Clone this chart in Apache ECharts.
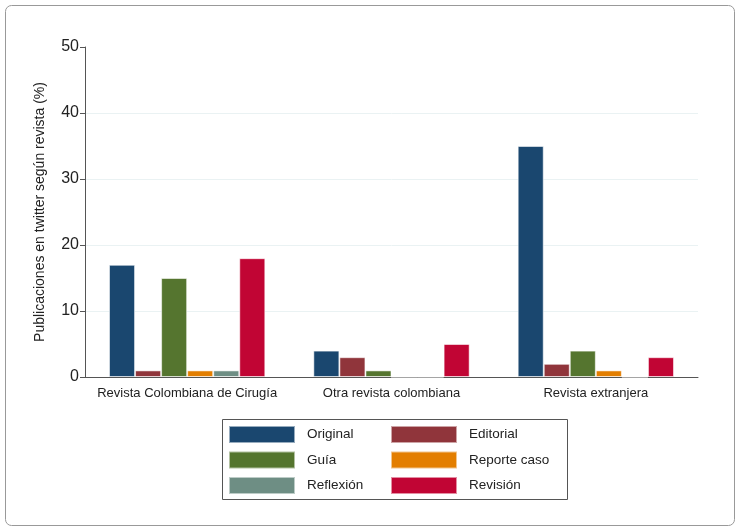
<!DOCTYPE html>
<html>
<head>
<meta charset="utf-8">
<script src="https://cdn.jsdelivr.net/npm/echarts@6/dist/echarts.min.js"></script>
<style>
html,body{margin:0;padding:0;background:#fff;}
#main{width:736px;height:527px;}
</style>
</head>
<body>
<div id="main"></div>
<script>
const categories = ['Revista Colombiana de Cirugía', 'Otra revista colombiana', 'Revista extranjera'];
const seriesNames = ['Original', 'Editorial', 'Guía', 'Reporte caso', 'Reflexión', 'Revisión'];
const original = [17, 4, 35];
const editorial = [1, 3, 2];
const guia = [15, 1, 4];
const reporteCaso = [1, 0, 1];
const reflexion = [1, 0, 0];
const revision = [18, 5, 3];
const yTicks = [0, 10, 20, 30, 40, 50];

const colors = ['#1a476f', '#90353b', '#55752f', '#e37e00', '#6e8e84', '#c10534'];
const values = [original, editorial, guia, reporteCaso, reflexion, revision];

const chart = echarts.init(document.getElementById('main'), null, {renderer: 'canvas'});
const series = seriesNames.map((n, i) => ({
  name: n,
  type: 'bar',
  data: values[i],
  barGap: '0%',
  barCategoryGap: '23.5%',
  itemStyle: {color: colors[i], borderColor: 'rgba(255,255,255,0.55)', borderWidth: 1},
  emphasis: {disabled: true}
}));

const legendCommon = {
  orient: 'vertical',
  padding: 0,
  itemWidth: 66,
  itemHeight: 17,
  itemGap: 6.5,
  icon: 'rect',
  selectedMode: false,
  textStyle: {fontSize: 13.5, color: '#222', fontFamily: 'Liberation Sans, Arial, sans-serif', padding: [0, 0, 0, 7]}
};

chart.setOption({
  animation: false,
  color: colors,
  grid: {left: 85, right: 38, top: 47, bottom: 150},
  xAxis: {
    type: 'category',
    data: categories,
    axisLine: {lineStyle: {color: '#555', width: 1}},
    axisTick: {show: false},
    axisLabel: {interval: 0, fontSize: 13, color: '#222', margin: 10, fontFamily: 'Liberation Sans, Arial, sans-serif'}
  },
  yAxis: {
    type: 'value',
    min: 0,
    max: 50,
    interval: 10,
    name: 'Publicaciones en twitter según revista (%)',
    nameLocation: 'middle',
    nameGap: 38,
    nameTextStyle: {fontSize: 14, color: '#222', fontFamily: 'Liberation Sans, Arial, sans-serif'},
    axisLine: {show: true, lineStyle: {color: '#555', width: 1}},
    axisTick: {show: true, length: 5, lineStyle: {color: '#555'}},
    axisLabel: {fontSize: 16, color: '#222', margin: 6, fontFamily: 'Liberation Sans, Arial, sans-serif',
      formatter: v => yTicks.includes(v) ? String(v) : ''},
    splitLine: {show: true, lineStyle: {color: ['transparent', '#eaf2f3', '#eaf2f3', '#eaf2f3', '#eaf2f3', 'transparent'], width: 1}}
  },
  legend: [
    Object.assign({}, legendCommon, {left: 228, top: 425, data: ['Original', 'Guía', 'Reflexión']}),
    Object.assign({}, legendCommon, {left: 390, top: 425, data: ['Editorial', 'Reporte caso', 'Revisión']})
  ],
  graphic: [
    {type: 'rect', left: 3, top: 3, shape: {width: 729, height: 520, r: 6}, style: {fill: 'none', stroke: '#999', lineWidth: 1}, silent: true},
    {type: 'rect', left: 220, top: 417, shape: {width: 345, height: 80}, style: {fill: 'none', stroke: '#555', lineWidth: 1}, silent: true}
  ],
  series: series
});
</script>
</body>
</html>
